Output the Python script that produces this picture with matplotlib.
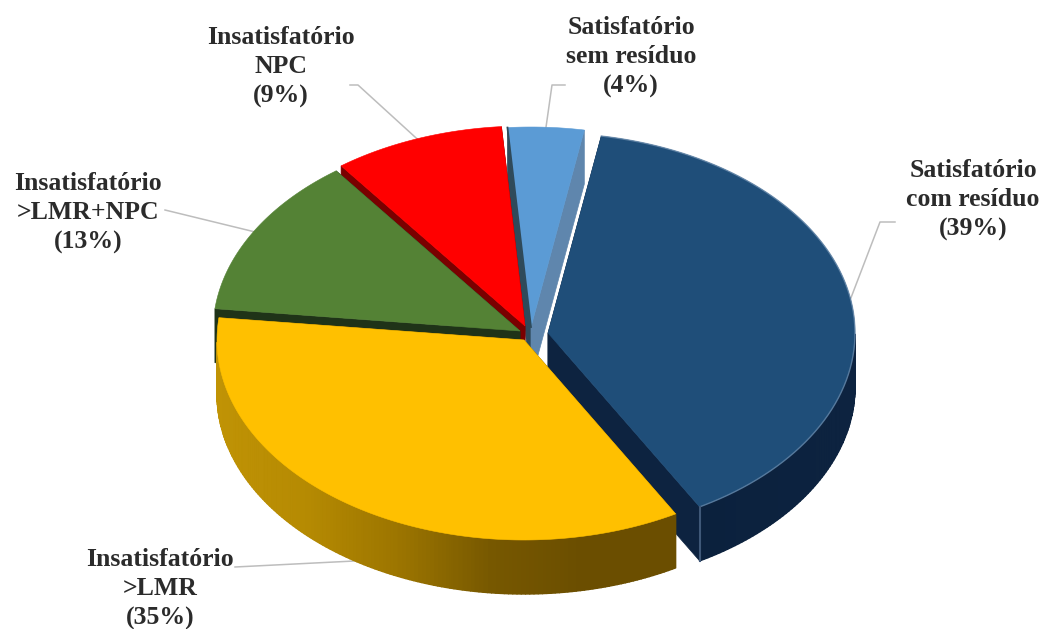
import numpy as np
import matplotlib
matplotlib.use("Agg")
import matplotlib.pyplot as plt
from matplotlib.collections import PolyCollection
from matplotlib.colors import LinearSegmentedColormap
from matplotlib.patches import Polygon

# Survey categories, listed clockwise from the slice right of the top
labels = ["Satisfatório\ncom resíduo", "Insatisfatório\n>LMR", "Insatisfatório\n>LMR+NPC",
          "Insatisfatório\nNPC", "Satisfatório\nsem resíduo"]
values = [39, 35, 13, 9, 4]

# Pie geometry, in figure pixels
START_ANGLE = 80.0
RX, RY = 307.0, 200.0
DEPTH = 54.0
apex_x = [548, 524, 520, 525, 531]
apex_y = [333, 340, 331, 326, 327]

top_colors = ["#1f4e79", "#ffc000", "#548235", "#ff0000", "#5b9bd5"]
start_face = ["#0d2340", "#6b4e00", "#1f3318", "#7a0000", "#2f4a5a"]
end_face = ["#0d2340", "#6b4e00", "#1f3318", "#7a0000", "#5f86ad"]
side_stops = [["#0b213d", "#0d2340"],
              ["#c09305", "#b58a02", "#9c7500", "#775800", "#6b4e00", "#6b4e00"],
              ["#1f3318", "#1f3318"], ["#7a0000", "#7a0000"], ["#2f5f8a", "#2f5f8a"]]

# Text anchors (centre of each label block) and elbow of its leader
label_x = [973, 160, 88, 281, 631]
label_y = [200, 589, 213, 67, 57]
elbow_x = [880, 235, 165, 358, 552]
elbow_y = [222, 567, 210, 85, 85]
leader_end_x = [895, 235, 165, 350, 565]


def rim(cx, cy, deg, drop=0.0):
    a = np.radians(deg)
    return cx + RX * np.cos(a), cy - RY * np.sin(a) + drop


fig = plt.figure(figsize=(10.43, 6.29), dpi=100)
ax = fig.add_axes([0, 0, 1, 1])
ax.set_xlim(0, 1043)
ax.set_ylim(629, 0)
ax.axis("off")

# Angular span of every slice, going clockwise
sweeps = np.array(values) / sum(values) * 360.0
starts = START_ANGLE - np.concatenate([[0], np.cumsum(sweeps)[:-1]])
ends = starts - sweeps

# Back slices first, the yellow slice overlaps the dark blue cut face
for i in [4, 3, 2, 0, 1]:
    cx, cy = apex_x[i], apex_y[i]
    theta = np.linspace(starts[i], ends[i], 160)
    rx_pts, ry_pts = rim(cx, cy, theta)

    # Radial cut faces
    for deg, col in ((starts[i], start_face[i]), (ends[i], end_face[i])):
        ex, ey = rim(cx, cy, deg)
        ax.add_patch(Polygon([(cx, cy), (ex, ey), (ex, ey + DEPTH), (cx, cy + DEPTH)],
                             closed=True, fc=col, ec=col, lw=0.5, zorder=1))

    # Outer wall, only where the rim faces the viewer
    lower = theta[np.sin(np.radians(theta)) < 0]
    if lower.size > 1:
        cmap = LinearSegmentedColormap.from_list("wall", side_stops[i])
        lx, ly = rim(cx, cy, lower)
        # Flat backing keeps seams between the shaded strips from showing
        ax.fill(np.r_[lx, lx[::-1]], np.r_[ly, ly[::-1] + DEPTH], color=cmap(0.5), lw=0, zorder=1)
        quads, cols = [], []
        for k in range(len(lower) - 1):
            quads.append([(lx[k], ly[k]), (lx[k + 1], ly[k + 1]),
                          (lx[k + 1], ly[k + 1] + DEPTH), (lx[k], ly[k] + DEPTH)])
            # Shade follows the horizontal position along the wall
            cols.append(cmap((lx[k] - lx.min()) / (lx.max() - lx.min())))
        ax.add_collection(PolyCollection(quads, facecolors=cols, edgecolors=cols,
                                         linewidths=1.0, zorder=1))

    # Top face
    ax.add_patch(Polygon(np.column_stack([np.r_[cx, rx_pts], np.r_[cy, ry_pts]]),
                         closed=True, fc=top_colors[i], ec=top_colors[i], lw=0.4, zorder=1))

    if i == 0:
        # Soft highlight along the blue rim and down its corner
        ax.plot(rx_pts, ry_pts, color="#6f8fb0", lw=1.0, alpha=0.7, zorder=1)
        ex, ey = rim(cx, cy, ends[i])
        ax.plot([ex, ex], [ey, ey + DEPTH], color="#3f5878", lw=1.5, zorder=1)
    if i == 4:
        # Dark seam on the side facing the red slice
        ex, ey = rim(cx, cy, starts[i])
        ax.plot([cx, ex], [cy, ey], color="#2f4a5a", lw=1.3, zorder=1)

# Leader lines and labels
for i, name in enumerate(labels):
    mid = (starts[i] + ends[i]) / 2
    ax_x, ax_y = rim(apex_x[i], apex_y[i], mid, DEPTH if np.sin(np.radians(mid)) < 0 else 0)
    ax.plot([ax_x, elbow_x[i], leader_end_x[i]], [ax_y, elbow_y[i], elbow_y[i]],
            color="#bdbdbd", lw=1.1, zorder=0)
    ax.text(label_x[i], label_y[i], f"{name}\n({values[i]}%)", ha="center", va="center",
            family="Liberation Serif", fontweight="bold", fontsize=18.5, color="#2b2b2b",
            linespacing=1.35, zorder=3)

fig.savefig("out.png", dpi=100, facecolor="white")
